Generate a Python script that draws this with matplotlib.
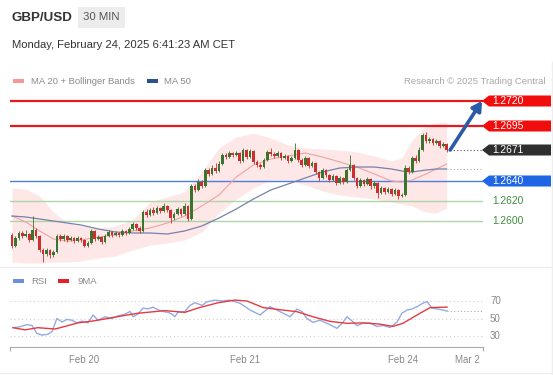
import numpy as np
import matplotlib.pyplot as plt
from matplotlib.patches import Polygon, Rectangle
from matplotlib.lines import Line2D

plt.rcParams['font.family'] = ['Liberation Sans', 'DejaVu Sans']

# ---- 30 min candles, open = previous close
first_open = 1.2586
close = [1.2575, 1.2583, 1.2588, 1.2585, 1.2587, 1.2581, 1.2591, 1.2585, 1.2571, 1.2567,
         1.2571, 1.2566, 1.2569, 1.2585, 1.2582, 1.2585, 1.2581, 1.2583, 1.2580, 1.2583,
         1.2581, 1.2575, 1.2578, 1.2590, 1.2582, 1.2584, 1.2579, 1.2585, 1.2589, 1.2586,
         1.2588, 1.2586, 1.2590, 1.2588, 1.2592, 1.2597, 1.2593, 1.2590, 1.2609, 1.2606,
         1.2611, 1.2608, 1.2613, 1.2610, 1.2615, 1.2611, 1.2603, 1.2607, 1.2612, 1.2607,
         1.2615, 1.2602, 1.2635, 1.2631, 1.2639, 1.2635, 1.2651, 1.2647, 1.2653, 1.2650,
         1.2657, 1.2666, 1.2664, 1.2668, 1.2666, 1.2668, 1.2660, 1.2671, 1.2664, 1.2670,
         1.2659, 1.2656, 1.2654, 1.2661, 1.2669, 1.2667, 1.2665, 1.2668, 1.2663, 1.2665,
         1.2660, 1.2663, 1.2671, 1.2661, 1.2656, 1.2663, 1.2655, 1.2658, 1.2649, 1.2643,
         1.2651, 1.2646, 1.2641, 1.2645, 1.2638, 1.2643, 1.2639, 1.2651, 1.2656, 1.2643,
         1.2635, 1.2641, 1.2637, 1.2642, 1.2635, 1.2638, 1.2628, 1.2633, 1.2629, 1.2632,
         1.2627, 1.2631, 1.2625, 1.2626, 1.2653, 1.2649, 1.2663, 1.2660, 1.2671, 1.2686,
         1.2680, 1.2682, 1.2678, 1.2680, 1.2675, 1.2677, 1.2671]
high = [1.2588, 1.2585, 1.2590, 1.2590, 1.2591, 1.2588, 1.2605, 1.2593, 1.2586, 1.2573,
        1.2573, 1.2572, 1.2571, 1.2587, 1.2587, 1.2587, 1.2586, 1.2585, 1.2584, 1.2585,
        1.2584, 1.2582, 1.2580, 1.2592, 1.2591, 1.2586, 1.2585, 1.2587, 1.2591, 1.2590,
        1.2590, 1.2589, 1.2592, 1.2591, 1.2594, 1.2599, 1.2598, 1.2595, 1.2611, 1.2612,
        1.2613, 1.2614, 1.2615, 1.2614, 1.2618, 1.2616, 1.2612, 1.2609, 1.2614, 1.2613,
        1.2618, 1.2616, 1.2637, 1.2637, 1.2642, 1.2641, 1.2653, 1.2653, 1.2656, 1.2658,
        1.2660, 1.2668, 1.2668, 1.2670, 1.2669, 1.2670, 1.2669, 1.2673, 1.2672, 1.2672,
        1.2671, 1.2661, 1.2658, 1.2663, 1.2671, 1.2673, 1.2669, 1.2670, 1.2669, 1.2667,
        1.2666, 1.2665, 1.2678, 1.2672, 1.2663, 1.2665, 1.2664, 1.2660, 1.2659, 1.2650,
        1.2653, 1.2652, 1.2647, 1.2647, 1.2646, 1.2645, 1.2644, 1.2653, 1.2666, 1.2657,
        1.2644, 1.2643, 1.2642, 1.2644, 1.2643, 1.2640, 1.2639, 1.2635, 1.2634, 1.2634,
        1.2633, 1.2633, 1.2632, 1.2628, 1.2656, 1.2655, 1.2665, 1.2666, 1.2674, 1.2688,
        1.2689, 1.2684, 1.2683, 1.2682, 1.2681, 1.2679, 1.2678]
low = [1.2573, 1.2574, 1.2581, 1.2583, 1.2584, 1.2579, 1.2580, 1.2583, 1.2569, 1.2559,
       1.2565, 1.2563, 1.2564, 1.2568, 1.2580, 1.2580, 1.2579, 1.2580, 1.2578, 1.2579,
       1.2579, 1.2574, 1.2574, 1.2577, 1.2580, 1.2581, 1.2577, 1.2578, 1.2584, 1.2584,
       1.2585, 1.2584, 1.2585, 1.2586, 1.2587, 1.2591, 1.2591, 1.2588, 1.2589, 1.2604,
       1.2605, 1.2606, 1.2607, 1.2608, 1.2609, 1.2609, 1.2598, 1.2601, 1.2606, 1.2605,
       1.2606, 1.2600, 1.2601, 1.2629, 1.2630, 1.2633, 1.2634, 1.2645, 1.2646, 1.2648,
       1.2649, 1.2656, 1.2662, 1.2663, 1.2664, 1.2665, 1.2658, 1.2659, 1.2662, 1.2663,
       1.2657, 1.2654, 1.2652, 1.2653, 1.2660, 1.2665, 1.2663, 1.2664, 1.2661, 1.2662,
       1.2658, 1.2659, 1.2662, 1.2659, 1.2654, 1.2655, 1.2653, 1.2654, 1.2647, 1.2640,
       1.2642, 1.2644, 1.2639, 1.2640, 1.2636, 1.2637, 1.2637, 1.2638, 1.2650, 1.2641,
       1.2633, 1.2634, 1.2635, 1.2636, 1.2632, 1.2633, 1.2623, 1.2627, 1.2627, 1.2628,
       1.2625, 1.2626, 1.2622, 1.2624, 1.2625, 1.2647, 1.2648, 1.2658, 1.2659, 1.2670,
       1.2678, 1.2678, 1.2676, 1.2677, 1.2673, 1.2674, 1.2669]

# ---- indicators read at some candle positions
band_idx = [0, 4, 8, 12, 16, 20, 25, 30, 35, 40, 45, 50, 55, 60, 65,
            70, 75, 80, 85, 90, 95, 100, 105, 110, 113, 116, 120, 123, 126]
bb_upper = [1.2633, 1.2632, 1.2625, 1.2609, 1.2598, 1.2595, 1.2593, 1.2595, 1.2601, 1.2619,
            1.2624, 1.2629, 1.2649, 1.2673, 1.2684, 1.2688, 1.2683, 1.2676, 1.2673, 1.2672,
            1.2671, 1.2669, 1.2665, 1.2660, 1.2663, 1.2681, 1.2695, 1.2698, 1.2699]
bb_lower = [1.2559, 1.2558, 1.2558, 1.2559, 1.2559, 1.2560, 1.2563, 1.2565, 1.2571, 1.2576,
            1.2578, 1.2581, 1.2589, 1.2608, 1.2622, 1.2633, 1.2641, 1.2641, 1.2636, 1.2630,
            1.2626, 1.2624, 1.2622, 1.2619, 1.2617, 1.2615, 1.2609, 1.2608, 1.2613]
ma20 = [1.2605, 1.2599, 1.2590, 1.2582, 1.2580, 1.2581, 1.2584, 1.2586, 1.2590, 1.2593,
        1.2598, 1.2605, 1.2615, 1.2626, 1.2644, 1.2656, 1.2662, 1.2665, 1.2668, 1.2664,
        1.2659, 1.2654, 1.2647, 1.2640, 1.2639, 1.2641, 1.2647, 1.2652, 1.2657]
ma50 = [1.2605, 1.2604, 1.2602, 1.2600, 1.2598, 1.2596, 1.2592, 1.2589, 1.2588, 1.2588,
        1.2587, 1.2590, 1.2595, 1.2603, 1.2612, 1.2622, 1.2631, 1.2637, 1.2643, 1.2649,
        1.2653, 1.2654, 1.2654, 1.2652, 1.2650, 1.2649, 1.2651, 1.2652, 1.2652]

rsi_idx = [0.3, 2.3, 4.3, 5.8, 7.2, 8.7, 10.4, 11.6, 13, 14.5, 15.9, 17.4, 18.8, 20.3, 22,
           23.5, 24.9, 27, 29, 30.7, 32.8, 34.2, 35.1, 36.5, 38, 39.4, 40.9, 42.3, 43.8,
           45.2, 46.4, 47.2, 48.1, 50.1, 51.6, 53, 55.1, 56.5, 58.8, 60.9, 63.2, 66.1, 69,
           71.9, 74.8, 77.7, 80.6, 82.6, 84.1, 85.5, 87.2, 89.3, 91.3, 94.2, 95.7, 97.1,
           98.6, 100, 101.7, 103.8, 105.8, 107.5, 109.6, 111.6, 113, 114.5, 115.9, 117.4,
           119.1, 120.3, 121.7, 123.5, 126.1]
rsi_val = [39.5, 40.5, 43, 42, 33, 31, 32, 35, 50, 46, 49, 48, 45, 47, 45,
           54, 48, 52, 50, 53, 55, 58, 52, 55, 62, 61, 63, 60, 58,
           57, 55, 52, 57, 58, 65, 68, 65, 69, 71, 70, 71, 67.4, 59.7,
           54, 63.5, 57.8, 52, 60.8, 57.8, 50, 45.6, 48, 44.5, 38.8, 44.5, 52,
           47, 41.8, 44.5, 45, 40.8, 42, 39.7, 46, 56, 59.7, 60.8, 63.5,
           67.5, 69.4, 61.9, 60.8, 58.6]
ma9_idx = [0.3, 3.8, 7.5, 12.5, 15.4, 19.1, 23.2, 27, 31.9, 36.5, 44.3, 50.1, 53.9, 59.7,
           64.6, 68.1, 72.8, 77.7, 82.6, 87.2, 92.2, 97.1, 101.7, 106.7, 110.4, 113.3,
           117.4, 121.2, 126.1]
ma9_val = [39.5, 37, 39.5, 38, 41, 45, 47, 49.5, 53, 56, 59, 57, 62, 68,
           71, 70, 62.5, 60, 57.8, 52, 46.7, 44.5, 45, 43.5, 41, 44.5,
           54, 62.5, 63]

resistances = [1.2720, 1.2695]
pivot = 1.2640
supports = [1.2620, 1.2600]

date_pos = [20.75, 67.5, 113.3, 131.9]
date_labels = ['Feb 20', 'Feb 21', 'Feb 24', 'Mar 2']

W, H = 553, 375
UP, DOWN = '#3a7530', '#cf2e2e'


def fx(px):
    return px / W


def fy(py):
    return 1 - py / H


fig = plt.figure(figsize=(W / 100, H / 100), dpi=100)
xlim = ((10 - 12) / 3.45, (483 - 12) / 3.45)
aw = 473  # plot width in px

# ---------------- price panel
ax = fig.add_axes([fx(10), fy(265), aw / W, (265 - 88) / H])
ax.set_xlim(xlim)
ax.set_ylim(1.2556, 1.2733)
ax.axis('off')

ax.fill_between(band_idx, bb_lower, bb_upper, color='#fde7e7', lw=0, zorder=0.5)
ax.plot(band_idx, ma20, color='#f2a2a2', lw=0.8, zorder=2)
ax.plot(band_idx, ma50, color='#7682ab', lw=0.9, zorder=2)

for r in resistances:
    ax.axhline(r, color='#e8191c', lw=1.6, zorder=1)
ax.axhline(pivot, color='#4f7fd9', lw=1.0, zorder=1)
for s in supports:
    ax.axhline(s, color='#acd6a6', lw=1.0, zorder=1)

idx = np.arange(len(close))
c = np.array(close)
o = np.array([first_open] + close[:-1])
col = np.where(c >= o, UP, DOWN)
ax.vlines(idx, low, high, colors=col, lw=0.6, zorder=3)
ax.bar(idx, np.maximum(np.abs(c - o), 0.00008), bottom=np.minimum(o, c),
       width=0.76, color=col, lw=0, zorder=4)

ax.plot([idx[-1] + 1, xlim[1]], [close[-1]] * 2, color='#555555', lw=0.8,
        ls=(0, (1, 2)), zorder=2)
ax.plot([idx[-1] + 1, xlim[1]], [ma50[-1]] * 2, color='#aaaaaa', lw=0.8,
        ls=(0, (1, 2)), zorder=2)

ax.annotate('', xy=(xlim[1] - 0.3, resistances[0]), xytext=(idx[-1] + 1, close[-1]),
            arrowprops=dict(arrowstyle='-|>,head_length=0.55,head_width=0.32',
                            color='#2b5ba6', lw=2.6, shrinkA=0, shrinkB=0),
            annotation_clip=False, zorder=7)

tr = ax.get_yaxis_transform()


def tag(y, text, color):
    h = 0.00055
    a0, a1, a2 = (482 - 10) / aw, (489 - 10) / aw, (551 - 10) / aw
    ax.add_patch(Polygon([(a0, y), (a1, y + h), (a2, y + h), (a2, y - h), (a1, y - h)],
                         closed=True, transform=tr, color=color, lw=0,
                         clip_on=False, zorder=6))
    ax.text((492 - 10) / aw, y, text, transform=tr, color='white', fontsize=7.4,
            va='center', ha='left', clip_on=False, zorder=7)


for r in resistances:
    tag(r, f'{r:.4f}', '#f20d0d')
tag(close[-1], f'{close[-1]:.4f}', '#2e2e2e')
tag(pivot, f'{pivot:.4f}', '#1f66e5')
for s in supports:
    ax.text((492 - 10) / aw, s, f'{s:.4f}', transform=tr, color='#3f8f3a',
            fontsize=7.4, va='center', ha='left', clip_on=False)

# ---------------- RSI panel
rax = fig.add_axes([fx(10), fy(347), aw / W, (347 - 285) / H])
rax.set_xlim(xlim)
rax.set_ylim(17.43, 88.29)
for sp in ['top', 'left', 'right']:
    rax.spines[sp].set_visible(False)
rax.spines['bottom'].set_color('#aaaaaa')
rax.hlines([30, 50, 70], xlim[0], xlim[1], colors='#cfcfcf', linestyles=(0, (1, 2.5)), lw=0.8)
rax.plot(rsi_idx, rsi_val, color='#93abe2', lw=1.0)
rax.plot(ma9_idx, ma9_val, color='#e63a40', lw=1.0)
rax.plot([rsi_idx[-1], xlim[1]], [rsi_val[-1]] * 2, color='#aaaaaa', lw=0.8, ls=(0, (1, 2)))
for v in [70, 50, 30]:
    rax.text((490 - 10) / aw, v, str(v), transform=rax.get_yaxis_transform(),
             color='#888888', fontsize=7, va='center', ha='left')
rax.set_yticks([])
rax.set_xticks(xlim)
rax.set_xticklabels([])
rax.tick_params(which='major', length=3, color='#aaaaaa')
rax.set_xticks(date_pos, minor=True)
rax.set_xticklabels(date_labels, minor=True)
rax.tick_params(which='minor', length=0, pad=6, labelsize=7, labelcolor='#888888')

# ---------------- header, legends, frame
fig.text(fx(11), fy(18), 'GBP/USD', fontsize=9.6, fontweight='bold', color='#333333', va='center')
fig.add_artist(Rectangle((fx(78), fy(28)), 47 / W, 21 / H, transform=fig.transFigure,
                         color='#ececec', lw=0))
fig.text(fx(101.5), fy(17.5), '30 MIN', fontsize=8.2, color='#555555', va='center', ha='center')
fig.text(fx(12.5), fy(45), 'Monday, February 24, 2025 6:41:23 AM CET', fontsize=8.1,
         color='#333333', va='center')


def swatch(x0, y0, color):
    fig.add_artist(Rectangle((fx(x0), fy(y0 + 2)), 11 / W, 4 / H, transform=fig.transFigure,
                             color=color, lw=0))


swatch(13, 81, '#f29a9a')
fig.text(fx(31), fy(81), 'MA 20 + Bollinger Bands', fontsize=6.8, color='#8a8a8a', va='center')
swatch(147, 81, '#2d4f8c')
fig.text(fx(164), fy(81), 'MA 50', fontsize=6.8, color='#8a8a8a', va='center')
fig.text(fx(545), fy(81), 'Research \u00a9 2025 Trading Central', fontsize=6.8,
         color='#a8a8a8', va='center', ha='right')

swatch(13, 281, '#6d8fe0')
fig.text(fx(31), fy(281), 'RSI', fontsize=6.8, color='#8a8a8a', va='center')
swatch(58, 281, '#e5202a')
fig.text(fx(77), fy(281), '9MA', fontsize=6.8, color='#8a8a8a', va='center')

for yy in [267, 373]:
    fig.add_artist(Line2D([0, 1], [fy(yy)] * 2, transform=fig.transFigure, color='#eeeeee', lw=1))
fig.add_artist(Line2D([fx(552)] * 2, [fy(62), fy(375)], transform=fig.transFigure,
                      color='#eeeeee', lw=1))

fig.savefig('out.png', dpi=100)
